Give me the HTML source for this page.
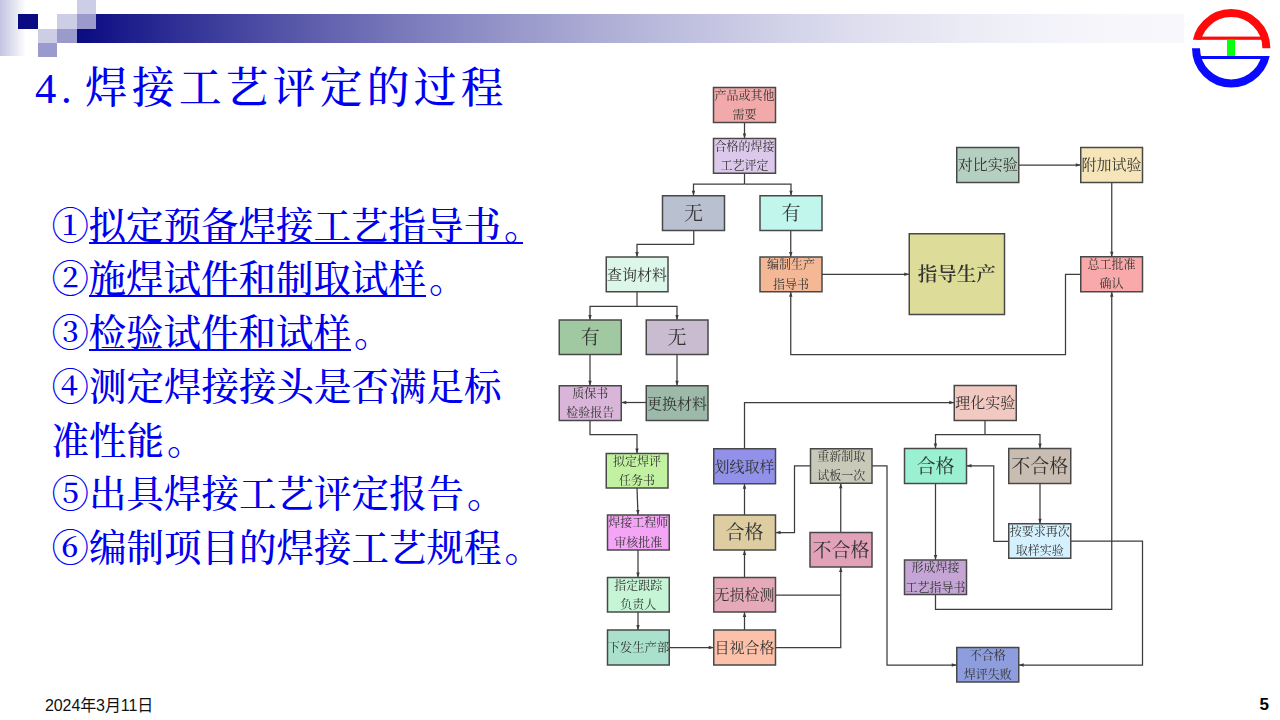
<!DOCTYPE html>
<html lang="zh-CN">
<head>
<meta charset="utf-8">
<title>焊接工艺评定的过程</title>
<style>
html,body{margin:0;padding:0;}
body{width:1280px;height:720px;position:relative;overflow:hidden;background:#fff;
 font-family:"Liberation Serif","Noto Serif CJK SC",serif;}
.abs{position:absolute;}
/* header decoration */
#lgrad{left:0;top:0;width:38px;height:56px;background:linear-gradient(to right,#c3c3e1 0%,#ffffff 68%);}
#bar{left:77px;top:14px;width:1107px;height:29px;background:linear-gradient(to right,#0a0a82 0%,#1f1f8d 5%,#333397 10%,#4646a1 15%,#5959aa 20%,#6a6ab3 25%,#7b7bbc 30%,#8a8ac4 35%,#9999cb 40%,#a7a7d2 45%,#b4b4d9 50%,#bfbfdf 55%,#cacae5 60%,#d4d4ea 65%,#ddddee 70%,#e4e4f2 75%,#ebebf5 80%,#f0f0f8 85%,#f4f4fa 90%,#f7f7fb 95%,#f8f8fc 100%);}
.sq{position:absolute;}
.navy{background:#0a0a82;}
.lt{background:#cdcde6;}
.md{background:#9a9acd;}
#title{left:35px;top:59px;font-size:42.67px;line-height:60px;color:#0000f0;letter-spacing:4.3px;white-space:nowrap;font-weight:500;}
#title i{font-style:normal;display:inline-block;width:26px;letter-spacing:0;}
#title i.dot{padding-left:0px;width:24px;}
#body{left:51.5px;top:199.5px;font-size:37.5px;line-height:53.8px;color:#0000f0;white-space:nowrap;font-weight:500;}
#body i{font-style:normal;display:inline-block;width:16.5px;padding-left:3px;}
#body u{text-decoration:none;display:inline-block;line-height:30px;border-bottom:2px solid #0000f0;margin-left:-0.5px;}
#date{left:45px;top:696.5px;font-family:"Liberation Sans","Noto Sans CJK SC",sans-serif;font-size:16px;line-height:18px;color:#111;white-space:nowrap;letter-spacing:-0.1px;}
#pg{left:1259.5px;top:694.5px;font-family:"Liberation Sans",sans-serif;font-weight:bold;font-size:17px;line-height:20px;color:#000;}
#logo{left:1184px;top:0;width:96px;height:96px;}
#flow{left:550px;top:80px;width:610px;height:610px;filter:blur(0.45px);}
#flow text{font-family:"Liberation Serif","Noto Serif CJK SC",serif;fill:#333;text-anchor:middle;}
</style>
</head>
<body>
<div id="lgrad" class="abs"></div>
<div id="bar" class="abs"></div>
<div class="sq navy" style="left:18px;top:14px;width:20px;height:15px"></div>
<div class="sq lt" style="left:77px;top:0;width:19px;height:14px"></div>
<div class="sq lt" style="left:57px;top:14px;width:20px;height:15px"></div>
<div class="sq md" style="left:77px;top:14px;width:19px;height:15px"></div>
<div class="sq lt" style="left:38px;top:29px;width:19px;height:14px"></div>
<div class="sq md" style="left:57px;top:29px;width:20px;height:14px"></div>
<div class="sq md" style="left:38px;top:43px;width:19px;height:13.5px"></div>

<svg id="logo" class="abs" viewBox="1184 0 96 96">
 <rect x="1184" y="0" width="96" height="96" fill="#fff"/>
 <defs>
  <clipPath id="cr"><path d="M1184 0H1280V48.2H1236V39.8H1184Z"/></clipPath>
  <clipPath id="cb"><path d="M1184 48.2H1226V56H1280V96H1184Z"/></clipPath>
 </defs>
 <circle cx="1231.2" cy="48.3" r="35.2" fill="none" stroke="#ff0a0a" stroke-width="8" clip-path="url(#cr)"/>
 <circle cx="1231.2" cy="48.3" r="35.2" fill="none" stroke="#0a0aff" stroke-width="8" clip-path="url(#cb)"/>
 <rect x="1196" y="36.6" width="68" height="3.2" fill="#ff0a0a"/>
 <rect x="1198" y="56" width="68" height="3" fill="#0a0aff"/>
 <rect x="1227" y="39.8" width="8" height="16.2" fill="#0aff0a"/>
</svg>

<div id="title" class="abs"><i>4</i><i class="dot">.</i>焊接工艺评定的过程</div>

<div id="body" class="abs">
<div>①<u>拟定预备焊接工艺指导书<i style="width:19px">。</i></u></div>
<div>②<u>施焊试件和制取试样</u><i>。</i></div>
<div>③<u>检验试件和试样</u><i>。</i></div>
<div>④测定焊接接头是否满足标</div>
<div>准性能<i>。</i></div>
<div>⑤出具焊接工艺评定报告<i>。</i></div>
<div>⑥编制项目的焊接工艺规程<i>。</i></div>
</div>

<svg id="flow" class="abs" viewBox="550 80 610 610">
<g fill="none" stroke="#3c3c3c" stroke-width="1.25">
<polyline points="744.5,122.5 744.5,138.5"/>
<polyline points="744.5,173.25 744.5,184"/>
<polyline points="744.5,184 693.5,184 693.5,195.75"/>
<polyline points="744.5,184 791,184 791,195.75"/>
<polyline points="693.75,230.5 693.75,244.25 637,244.25 637,257"/>
<polyline points="790.75,230.5 790.75,257"/>
<polyline points="637,291.75 637,306.25"/>
<polyline points="637,306.25 590,306.25 590,320"/>
<polyline points="637,306.25 677,306.25 677,320"/>
<polyline points="590,354.5 590,385.75"/>
<polyline points="677,354.5 677,385.75"/>
<polyline points="646.25,402.5 621.25,402.5"/>
<polyline points="590,420.5 590,434.5 637,434.5 637,453.5"/>
<polyline points="637,488 638,515"/>
<polyline points="638,550 638,577.5"/>
<polyline points="638,612 638,630"/>
<polyline points="669.25,647.5 713.75,647.5"/>
<polyline points="744.5,630 744.5,612"/>
<polyline points="744.5,577.5 744.5,550"/>
<polyline points="744.5,515 744.5,483.75"/>
<polyline points="744.5,448.75 744.5,402.5 954.25,402.5"/>
<polyline points="822,274.25 909.25,274.25"/>
<polyline points="1080.75,274.25 1065.5,274.25 1065.5,354.5 790.75,354.5 790.75,291.75"/>
<polyline points="1018.75,165 1080.75,165"/>
<polyline points="1111.75,182.5 1111.75,256.75"/>
<polyline points="985,420.5 985,434.5"/>
<polyline points="985,434.5 935.5,434.5 935.5,448.5"/>
<polyline points="985,434.5 1040,434.5 1040,448.5"/>
<polyline points="935.5,483.5 935.5,560"/>
<polyline points="935.5,594.5 935.5,609.25 1111.75,609.25 1111.75,291.75"/>
<polyline points="1040,483.5 1040,523.75"/>
<polyline points="1008.75,541.25 993.75,541.25 993.75,465.75 966.5,465.75"/>
<polyline points="1070.75,541 1142.5,541 1142.5,665 1018.75,665"/>
<polyline points="872,465.75 887,465.75 887,665 956.75,665"/>
<polyline points="810.5,465.75 794.5,465.75 794.5,532.5 775.5,532.5"/>
<polyline points="840.75,532.5 840.75,483.25"/>
<polyline points="775.5,595 840.75,595"/>
<polyline points="775.5,647.5 840.75,647.5 840.75,567"/>
</g>
<g fill="#3c3c3c" stroke="none">
<polygon points="744.50,138.50 742.80,133.50 746.20,133.50"/>
<polygon points="693.50,195.75 691.80,190.75 695.20,190.75"/>
<polygon points="791.00,195.75 789.30,190.75 792.70,190.75"/>
<polygon points="637.00,257.00 635.30,252.00 638.70,252.00"/>
<polygon points="790.75,257.00 789.05,252.00 792.45,252.00"/>
<polygon points="590.00,320.00 588.30,315.00 591.70,315.00"/>
<polygon points="677.00,320.00 675.30,315.00 678.70,315.00"/>
<polygon points="590.00,385.75 588.30,380.75 591.70,380.75"/>
<polygon points="677.00,385.75 675.30,380.75 678.70,380.75"/>
<polygon points="621.25,402.50 626.25,400.80 626.25,404.20"/>
<polygon points="637.00,453.50 635.30,448.50 638.70,448.50"/>
<polygon points="638.00,515.00 636.12,510.07 639.51,509.94"/>
<polygon points="638.00,577.50 636.30,572.50 639.70,572.50"/>
<polygon points="638.00,630.00 636.30,625.00 639.70,625.00"/>
<polygon points="713.75,647.50 708.75,649.20 708.75,645.80"/>
<polygon points="744.50,612.00 746.20,617.00 742.80,617.00"/>
<polygon points="744.50,550.00 746.20,555.00 742.80,555.00"/>
<polygon points="744.50,483.75 746.20,488.75 742.80,488.75"/>
<polygon points="954.25,402.50 949.25,404.20 949.25,400.80"/>
<polygon points="909.25,274.25 904.25,275.95 904.25,272.55"/>
<polygon points="790.75,291.75 792.45,296.75 789.05,296.75"/>
<polygon points="1080.75,165.00 1075.75,166.70 1075.75,163.30"/>
<polygon points="1111.75,256.75 1110.05,251.75 1113.45,251.75"/>
<polygon points="935.50,448.50 933.80,443.50 937.20,443.50"/>
<polygon points="1040.00,448.50 1038.30,443.50 1041.70,443.50"/>
<polygon points="935.50,560.00 933.80,555.00 937.20,555.00"/>
<polygon points="1111.75,291.75 1113.45,296.75 1110.05,296.75"/>
<polygon points="1040.00,523.75 1038.30,518.75 1041.70,518.75"/>
<polygon points="966.50,465.75 971.50,464.05 971.50,467.45"/>
<polygon points="1018.75,665.00 1023.75,663.30 1023.75,666.70"/>
<polygon points="956.75,665.00 951.75,666.70 951.75,663.30"/>
<polygon points="775.50,532.50 780.50,530.80 780.50,534.20"/>
<polygon points="840.75,483.25 842.45,488.25 839.05,488.25"/>
<polygon points="840.75,567.00 842.45,572.00 839.05,572.00"/>
</g>
<g stroke="#484848" stroke-width="1.5">
<rect x="713.5" y="87.5" width="62" height="35" fill="#f2a9a9"/>
<rect x="713.5" y="138.5" width="62" height="34.75" fill="#dcc8ea"/>
<rect x="662.5" y="195.75" width="62" height="34.75" fill="#b9c0d0"/>
<rect x="760" y="195.75" width="62" height="34.75" fill="#c1f6ec"/>
<rect x="606.25" y="257" width="61.75" height="34.75" fill="#dcf6e9"/>
<rect x="760" y="257" width="62" height="34.75" fill="#f5b896"/>
<rect x="559.25" y="320" width="62" height="34.5" fill="#a1c9a1"/>
<rect x="646.25" y="320" width="61.75" height="34.5" fill="#c9bcd1"/>
<rect x="559.25" y="385.75" width="62" height="34.75" fill="#d9b5d9"/>
<rect x="646.25" y="385.75" width="61.75" height="34.75" fill="#9db9a9"/>
<rect x="606.25" y="453.5" width="61.75" height="34.5" fill="#c1f1a1"/>
<rect x="607.5" y="515" width="61.75" height="35" fill="#f5a5f5"/>
<rect x="607.5" y="577.5" width="61.75" height="34.5" fill="#c5f5d5"/>
<rect x="607.5" y="630" width="61.75" height="35" fill="#a9e1cd"/>
<rect x="713.75" y="448.75" width="61.75" height="35" fill="#9191e9"/>
<rect x="713.75" y="515" width="61.75" height="35" fill="#ddcda1"/>
<rect x="713.75" y="577.5" width="61.75" height="34.5" fill="#e5a9b9"/>
<rect x="713.75" y="630" width="61.75" height="35" fill="#fdc1a9"/>
<rect x="810.5" y="448.75" width="61.5" height="34.5" fill="#c9c9b9"/>
<rect x="810" y="532.5" width="62" height="34.5" fill="#e1a1b9"/>
<rect x="956.75" y="147.5" width="62" height="35" fill="#b5d0c1"/>
<rect x="1080.75" y="147.5" width="61.75" height="35" fill="#f6e5b9"/>
<rect x="1080.75" y="256.75" width="61.75" height="35" fill="#f9a9a9"/>
<rect x="909.25" y="233.75" width="95.25" height="80.75" fill="#dddd99"/>
<rect x="954.25" y="385.5" width="62" height="35" fill="#f1c9c1"/>
<rect x="904.5" y="448.5" width="62" height="35" fill="#99f1d1"/>
<rect x="1008.75" y="448.5" width="62" height="35" fill="#c9bdb1"/>
<rect x="1008.75" y="523.75" width="62" height="34.5" fill="#d5f1fd"/>
<rect x="904.5" y="560" width="62" height="34.5" fill="#c5a5d5"/>
<rect x="956.75" y="647.5" width="62" height="34.5" fill="#8d9ddd"/>
</g>
<g>
<text x="744.5" y="99.64" font-size="12">产品或其他</text>
<text x="744.5" y="119.24" font-size="12">需要</text>
<text x="744.5" y="150.64" font-size="12">合格的焊接</text>
<text x="744.5" y="170.24" font-size="12">工艺评定</text>
<text x="693.5" y="219.965" font-size="19">无</text>
<text x="791" y="219.965" font-size="19">有</text>
<text x="637.125" y="279.775" font-size="15">查询材料</text>
<text x="791" y="269.14" font-size="12">编制生产</text>
<text x="791" y="288.74" font-size="12">指导书</text>
<text x="590.25" y="344.09" font-size="19">有</text>
<text x="677.125" y="344.09" font-size="19">无</text>
<text x="590.25" y="397.89" font-size="12">质保书</text>
<text x="590.25" y="417.49" font-size="12">检验报告</text>
<text x="677.125" y="408.525" font-size="15">更换材料</text>
<text x="637.125" y="465.64" font-size="12">拟定焊评</text>
<text x="637.125" y="485.24" font-size="12">任务书</text>
<text x="638.375" y="527.14" font-size="12">焊接工程师</text>
<text x="638.375" y="546.74" font-size="12">审核批准</text>
<text x="638.375" y="589.64" font-size="12">指定跟踪</text>
<text x="638.375" y="609.24" font-size="12">负责人</text>
<text x="638.375" y="651.964" font-size="12.4">下发生产部</text>
<text x="744.625" y="471.65" font-size="15">划线取样</text>
<text x="744.625" y="539.34" font-size="19">合格</text>
<text x="744.625" y="600.15" font-size="15">无损检测</text>
<text x="744.625" y="652.9" font-size="15">目视合格</text>
<text x="841.25" y="460.89" font-size="12">重新制取</text>
<text x="841.25" y="480.49" font-size="12">试板一次</text>
<text x="841" y="556.59" font-size="19">不合格</text>
<text x="987.75" y="170.4" font-size="15">对比实验</text>
<text x="1111.62" y="170.4" font-size="15">附加试验</text>
<text x="1111.62" y="268.89" font-size="12">总工批准</text>
<text x="1111.62" y="288.49" font-size="12">确认</text>
<text x="956.875" y="281.145" font-size="19.5" font-weight="600">指导生产</text>
<text x="985.25" y="408.4" font-size="15">理化实验</text>
<text x="935.5" y="472.84" font-size="19">合格</text>
<text x="1039.75" y="472.84" font-size="19">不合格</text>
<text x="1039.75" y="535.89" font-size="12">按要求再次</text>
<text x="1039.75" y="555.49" font-size="12">取样实验</text>
<text x="935.5" y="572.14" font-size="12">形成焊接</text>
<text x="935.5" y="591.74" font-size="12">工艺指导书</text>
<text x="987.75" y="659.64" font-size="12">不合格</text>
<text x="987.75" y="679.24" font-size="12">焊评失败</text>
</g>
</svg>

<div id="date" class="abs">2024年3月11日</div>
<div id="pg" class="abs">5</div>
</body>
</html>
